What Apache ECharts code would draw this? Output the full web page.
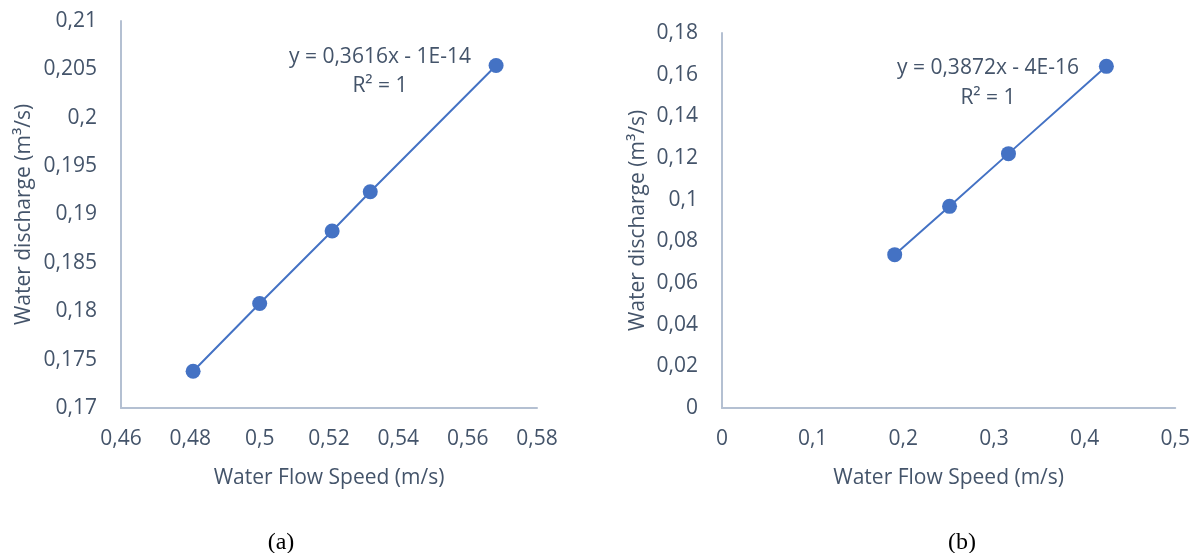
<!DOCTYPE html>
<html>
<head>
<meta charset="utf-8">
<script src="https://cdn.jsdelivr.net/npm/echarts@6/dist/echarts.min.js"></script>
<style>
html,body{margin:0;padding:0;background:#fff;}
#chart{width:1193px;height:553px;}
</style>
</head>
<body>
<div id="chart"></div>
<script>
// (a) data
const speedA = [0.4808, 0.5, 0.5209, 0.5319, 0.5682];
const dischargeA = [0.1738, 0.1808, 0.1883, 0.19235, 0.2054];
const eqA = ['y = 0,3616x - 1E-14', 'R² = 1'];
// (b) data
const speedB = [0.1905, 0.251, 0.316, 0.424];
const dischargeB = [0.0736, 0.0968, 0.1221, 0.1640];
const eqB = ['y = 0,3872x - 4E-16', 'R² = 1'];
const xTitle = 'Water Flow Speed (m/s)';
const yTitle = 'Water discharge (m³/s)';
const captions = ['(a)', '(b)'];

const txt = '#44546a';
const axisCol = '#b4c0d2';
const blue = '#4472c4';
const font = 'Open Sans';
const fs = 21;
const fmt = v => String(+v.toFixed(4)).replace('.', ',');

function xAxis(gi, min, max, interval) {
  return {
    type: 'value', gridIndex: gi, min, max, interval,
    name: xTitle, nameLocation: 'middle', nameGap: 60,
    nameTextStyle: {color: txt, fontFamily: font, fontSize: fs},
    axisLine: {show: true, lineStyle: {color: axisCol, width: 2}},
    axisTick: {show: false}, splitLine: {show: false},
    axisLabel: {color: txt, fontFamily: font, fontSize: fs, margin: 21, formatter: fmt}
  };
}
function yAxis(gi, min, max, interval, gap) {
  return {
    type: 'value', gridIndex: gi, min, max, interval,
    name: yTitle, nameLocation: 'middle', nameGap: gap,
    nameTextStyle: {color: txt, fontFamily: font, fontSize: fs},
    axisLine: {show: true, lineStyle: {color: axisCol, width: 2}},
    axisTick: {show: false}, splitLine: {show: false},
    axisLabel: {color: txt, fontFamily: font, fontSize: fs, margin: 24, formatter: fmt}
  };
}
function pairs(xs, ys) { return xs.map((x, i) => [x, ys[i]]); }

const chart = echarts.init(document.getElementById('chart'));
chart.setOption({
  animation: false,
  grid: [
    {left: 121, top: 21, width: 416, height: 387},
    {left: 722, top: 33, width: 455, height: 375}
  ],
  xAxis: [xAxis(0, 0.46, 0.58, 0.02), xAxis(1, 0, 0.5, 0.1)],
  yAxis: [yAxis(0, 0.17, 0.21, 0.005, 86), yAxis(1, 0, 0.18, 0.02, 73)],
  series: [
    {type: 'line', xAxisIndex: 0, yAxisIndex: 0, data: pairs(speedA, dischargeA),
     symbol: 'circle', symbolSize: 15, itemStyle: {color: blue},
     lineStyle: {color: blue, width: 2}},
    {type: 'line', xAxisIndex: 1, yAxisIndex: 1, data: pairs(speedB, dischargeB),
     symbol: 'circle', symbolSize: 15, itemStyle: {color: blue},
     lineStyle: {color: blue, width: 2}}
  ],
  graphic: [
    {type: 'text', x: 380, y: 71.5, style: {text: eqA.join('\n'), fill: txt, font: fs + 'px "Open Sans"', align: 'center', verticalAlign: 'middle', lineHeight: 29}},
    {type: 'text', x: 988, y: 83, style: {text: eqB.join('\n'), fill: txt, font: fs + 'px "Open Sans"', align: 'center', verticalAlign: 'middle', lineHeight: 30}},
    {type: 'text', x: 281, y: 543, style: {text: captions[0], fill: '#000', font: '24px "Liberation Serif"', align: 'center', verticalAlign: 'middle'}},
    {type: 'text', x: 962, y: 543, style: {text: captions[1], fill: '#000', font: '24px "Liberation Serif"', align: 'center', verticalAlign: 'middle'}}
  ]
});
</script>
</body>
</html>
